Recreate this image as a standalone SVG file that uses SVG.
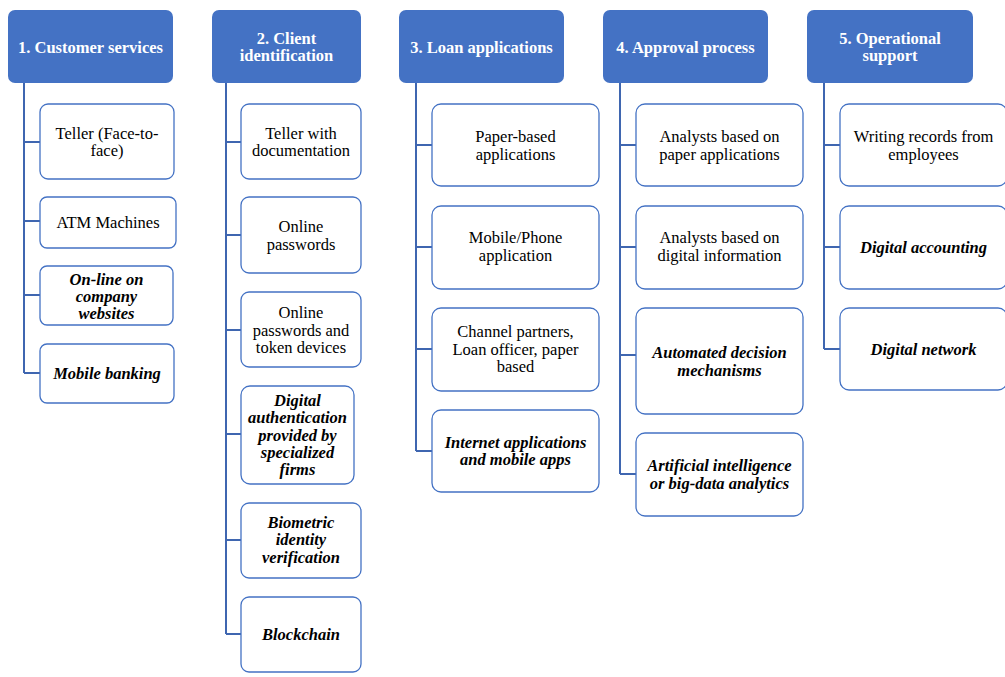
<svg xmlns="http://www.w3.org/2000/svg" width="1005" height="677" viewBox="0 0 1005 677">
<style>
.hdr{fill:#4472C4;stroke:none}
.box{fill:#fff;stroke:#4472C4;stroke-width:1.3}
text{font-family:'Liberation Serif','Times New Roman',Tinos,'DejaVu Serif',serif;font-size:16.5px;text-anchor:middle}
.ht{font-weight:bold;fill:#fff}
.t{fill:#000}
.bi{font-weight:bold;font-style:italic;fill:#000}
.c{fill:none;stroke:#3F66B0;stroke-width:2}
</style>
<rect width="1005" height="677" fill="#fff"/>
<g id="connectors">
<path class="c" d="M24 83V373M24 142H40M24 221H40M24 295H40M24 373H40"/>
<path class="c" d="M226 83V634M226 142H241M226 235H241M226 330H241M226 434H241M226 540H241M226 634H241"/>
<path class="c" d="M416 83V451M416 145H432M416 247H432M416 349H432M416 451H432"/>
<path class="c" d="M620 83V474M620 145H636M620 247H636M620 355H636M620 474H636"/>
<path class="c" d="M824 83V349M824 145H840M824 247H840M824 349H840"/>
</g>
<g id="h1"><rect class="hdr" x="8" y="10" width="165" height="73" rx="7"/><text class="ht" x="90.5" y="52.5">1. Customer services</text></g>
<g id="h2"><rect class="hdr" x="212" y="10" width="149" height="73" rx="7"/><text class="ht" x="286.5" y="44">2. Client</text><text class="ht" x="286.5" y="61">identification</text></g>
<g id="h3"><rect class="hdr" x="399" y="10" width="165" height="73" rx="7"/><text class="ht" x="481.5" y="52.5">3. Loan applications</text></g>
<g id="h4"><rect class="hdr" x="603" y="10" width="165" height="73" rx="7"/><text class="ht" x="685.5" y="52.5">4. Approval process</text></g>
<g id="h5"><rect class="hdr" x="807" y="10" width="166" height="73" rx="7"/><text class="ht" x="890" y="44">5. Operational</text><text class="ht" x="890" y="61">support</text></g>

<g id="c1a"><rect class="box" x="40" y="104" width="134" height="75" rx="8"/><text class="t" x="107" y="138.5">Teller (Face-to-</text><text class="t" x="107" y="156">face)</text></g>
<g id="c1b"><rect class="box" x="40" y="197" width="136" height="51" rx="7"/><text class="t" x="108" y="228">ATM Machines</text></g>
<g id="c1c"><rect class="box" x="40" y="266" width="133" height="59" rx="7"/><text class="bi" x="106.5" y="284.5">On-line on</text><text class="bi" x="106.5" y="302">company</text><text class="bi" x="106.5" y="319">websites</text></g>
<g id="c1d"><rect class="box" x="40" y="344" width="134" height="59" rx="7"/><text class="bi" x="107" y="379">Mobile banking</text></g>

<g id="c2a"><rect class="box" x="241" y="104" width="120" height="75" rx="8"/><text class="t" x="301" y="138.5">Teller with</text><text class="t" x="301" y="156">documentation</text></g>
<g id="c2b"><rect class="box" x="241" y="197" width="120" height="76" rx="8"/><text class="t" x="301" y="232">Online</text><text class="t" x="301" y="249.5">passwords</text></g>
<g id="c2c"><rect class="box" x="241" y="292" width="120" height="75" rx="8"/><text class="t" x="301" y="318">Online</text><text class="t" x="301" y="335.5">passwords and</text><text class="t" x="301" y="353">token devices</text></g>
<g id="c2d"><rect class="box" x="241" y="386" width="113" height="98" rx="9"/><text class="bi" x="297.5" y="406">Digital</text><text class="bi" x="297.5" y="423.3">authentication</text><text class="bi" x="297.5" y="440.6">provided by</text><text class="bi" x="297.5" y="457.9">specialized</text><text class="bi" x="297.5" y="475.2">firms</text></g>
<g id="c2e"><rect class="box" x="241" y="503" width="120" height="75" rx="8"/><text class="bi" x="301" y="528">Biometric</text><text class="bi" x="301" y="545.3">identity</text><text class="bi" x="301" y="562.6">verification</text></g>
<g id="c2f"><rect class="box" x="241" y="597" width="120" height="75" rx="8"/><text class="bi" x="301" y="640">Blockchain</text></g>

<g id="c3a"><rect class="box" x="432" y="104" width="167" height="82" rx="9"/><text class="t" x="515.5" y="142">Paper-based</text><text class="t" x="515.5" y="159.5">applications</text></g>
<g id="c3b"><rect class="box" x="432" y="206" width="167" height="83" rx="9"/><text class="t" x="515.5" y="243">Mobile/Phone</text><text class="t" x="515.5" y="260.5">application</text></g>
<g id="c3c"><rect class="box" x="432" y="308" width="167" height="83" rx="9"/><text class="t" x="515.5" y="337">Channel partners,</text><text class="t" x="515.5" y="354.5">Loan officer, paper</text><text class="t" x="515.5" y="372">based</text></g>
<g id="c3d"><rect class="box" x="432" y="410" width="167" height="82" rx="9"/><text class="bi" x="515.5" y="447.5">Internet applications</text><text class="bi" x="515.5" y="465">and mobile apps</text></g>

<g id="c4a"><rect class="box" x="636" y="104" width="167" height="82" rx="9"/><text class="t" x="719.5" y="142">Analysts based on</text><text class="t" x="719.5" y="159.5">paper applications</text></g>
<g id="c4b"><rect class="box" x="636" y="206" width="167" height="83" rx="9"/><text class="t" x="719.5" y="243">Analysts based on</text><text class="t" x="719.5" y="260.5">digital information</text></g>
<g id="c4c"><rect class="box" x="636" y="308" width="167" height="106" rx="9"/><text class="bi" x="719.5" y="358">Automated decision</text><text class="bi" x="719.5" y="375.5">mechanisms</text></g>
<g id="c4d"><rect class="box" x="636" y="433" width="167" height="83" rx="9"/><text class="bi" x="719.5" y="471">Artificial intelligence</text><text class="bi" x="719.5" y="488.5">or big-data analytics</text></g>

<g id="c5a"><rect class="box" x="840" y="104" width="167" height="82" rx="9"/><text class="t" x="923.5" y="142">Writing records from</text><text class="t" x="923.5" y="159.5">employees</text></g>
<g id="c5b"><rect class="box" x="840" y="206" width="167" height="83" rx="9"/><text class="bi" x="923.5" y="253">Digital accounting</text></g>
<g id="c5c"><rect class="box" x="840" y="308" width="167" height="82" rx="9"/><text class="bi" x="923.5" y="355">Digital network</text></g>
</svg>
